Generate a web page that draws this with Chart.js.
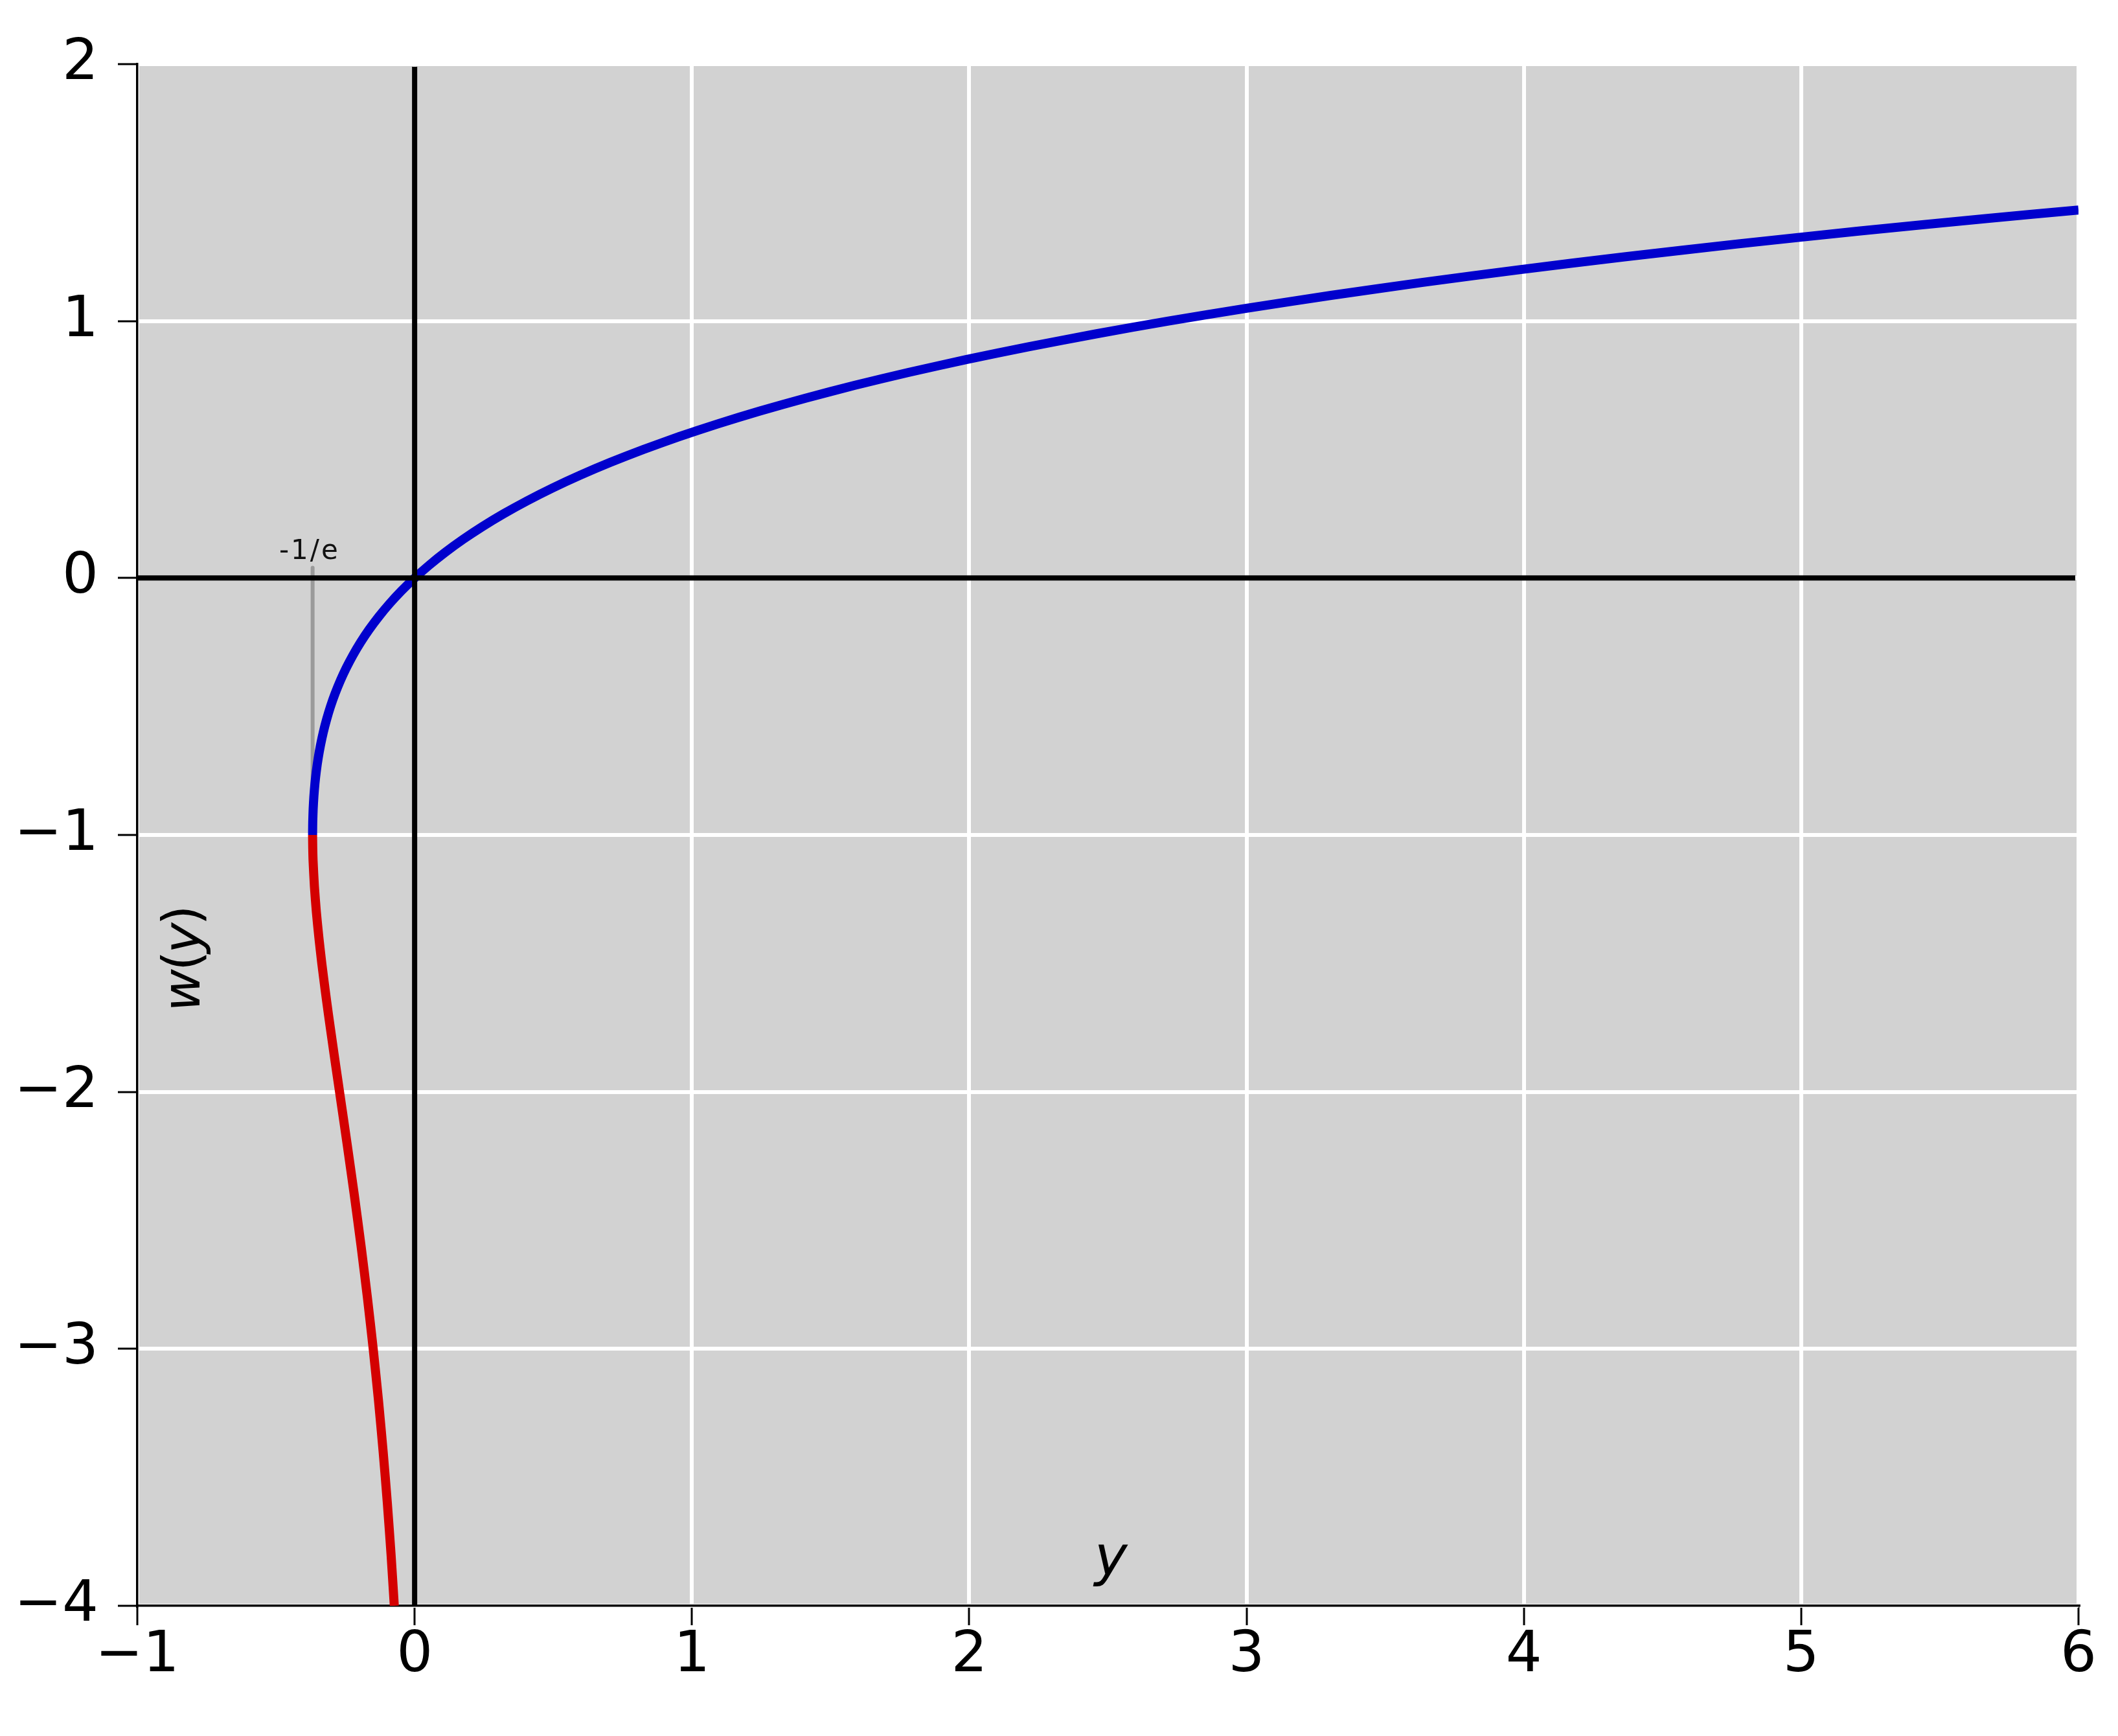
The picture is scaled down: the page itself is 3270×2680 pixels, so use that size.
<!DOCTYPE html>
<html><head><meta charset="utf-8">
<script src="https://cdn.jsdelivr.net/npm/chart.js@4.4.0/dist/chart.umd.min.js"></script>
<style>html,body{margin:0;padding:0;background:#fff}</style>
</head><body>
<canvas id="c" width="3270" height="2680" style="width:3270px;height:2680px;display:block"></canvas>
<script>
// ---- data ----
const xTicks = [-1, 0, 1, 2, 3, 4, 5, 6];
const yTicks = [-4, -3, -2, -1, 0, 1, 2];

// principal branch (blue): horizontal value y, vertical value w(y)
const principalY = [-0.3679, -0.3679, -0.3678, -0.3674, -0.3659, -0.3633, -0.3595, -0.3543, -0.3476, -0.3393, -0.3293,
  -0.3173, -0.3033, -0.2869, -0.2681, -0.2466, -0.2222, -0.1947, -0.1637, -0.1291, -0.0905, -0.0476, 0,
  0.0526, 0.1105, 0.1743, 0.2443, 0.3210, 0.4050, 0.4967, 0.5967, 0.7057, 0.8244, 0.9533, 1.0933, 1.2451,
  1.4096, 1.5878, 1.7804, 1.9887, 2.2136, 2.4564, 2.7183, 3.0005, 3.3046, 3.6319, 3.9841, 4.3629, 4.7701,
  5.2075, 5.6773, 6.0];
const principalW = [-1.0, -0.99, -0.98, -0.95, -0.9, -0.85, -0.8, -0.75, -0.7, -0.65, -0.6,
  -0.55, -0.5, -0.45, -0.4, -0.35, -0.3, -0.25, -0.2, -0.15, -0.1, -0.05, 0,
  0.05, 0.1, 0.15, 0.2, 0.25, 0.3, 0.35, 0.4, 0.45, 0.5, 0.55, 0.6, 0.65,
  0.7, 0.75, 0.8, 0.85, 0.9, 0.95, 1.0, 1.05, 1.1, 1.15, 1.2, 1.25, 1.3,
  1.35, 1.4, 1.4324];

// lower branch (red)
const lowerY = [-0.3679, -0.3679, -0.3674, -0.3662, -0.3614, -0.3543, -0.3452, -0.3347, -0.3230, -0.3106, -0.2975,
  -0.2842, -0.2707, -0.2438, -0.2177, -0.1931, -0.1703, -0.1494, -0.1304, -0.1135, -0.0984, -0.0850, -0.0733];
const lowerW = [-1.0, -1.01, -1.05, -1.1, -1.2, -1.3, -1.4, -1.5, -1.6, -1.7, -1.8,
  -1.9, -2.0, -2.2, -2.4, -2.6, -2.8, -3.0, -3.2, -3.4, -3.6, -3.8, -4.0];

// marker at the branch point
const branchX = [-0.3679, -0.3679];
const branchW = [-1.0, 0.04];
const branchLabel = '-1/e';
const branchLabelPos = [-0.379, 0.075];

const xTitle = 'y';
const xTitlePos = [2.511, -3.88];
const yTitlePos = [-0.776, -1.48];

// ---- helpers ----
const FONT = '"DejaVu Sans", sans-serif';
function pts(xs, ys) { return xs.map((x, i) => ({ x: x, y: ys[i] })); }
function fmt(v) { return (v < 0 ? '\u2212' : '') + Math.abs(v); }

function drawRuns(ctx, runs, cx, by) {
  let total = 0;
  runs.forEach(r => { ctx.font = r.font; total += ctx.measureText(r.t).width + (r.k || 0); });
  let x = cx - total / 2;
  ctx.textAlign = 'left';
  ctx.textBaseline = 'alphabetic';
  runs.forEach(r => { ctx.font = r.font; ctx.fillText(r.t, x, by); x += ctx.measureText(r.t).width + (r.k || 0); });
}

const decor = {
  id: 'decor',
  beforeDraw(chart) {
    const { ctx, chartArea: a } = chart;
    ctx.save();
    ctx.fillStyle = '#d2d2d2';
    ctx.fillRect(a.left, a.top, a.right - a.left, a.bottom - a.top);
    ctx.restore();
  },
  afterDatasetsDraw(chart) {
    const { ctx, chartArea: a, scales: { x, y } } = chart;
    ctx.save();
    // zero lines
    ctx.strokeStyle = '#000';
    ctx.lineWidth = 8;
    ctx.beginPath();
    const y0 = y.getPixelForValue(0);
    ctx.moveTo(a.left, y0); ctx.lineTo(a.right - 5, y0);
    const x0 = x.getPixelForValue(0);
    ctx.moveTo(x0, a.top + 4); ctx.lineTo(x0, a.bottom);
    ctx.stroke();

    ctx.fillStyle = '#111';
    // -1/e label
    ctx.font = '42px "DejaVu Sans", sans-serif';
    ctx.textAlign = 'center';
    ctx.textBaseline = 'alphabetic';
    if ('letterSpacing' in ctx) ctx.letterSpacing = '3px';
    ctx.fillText(branchLabel, x.getPixelForValue(branchLabelPos[0]), y.getPixelForValue(branchLabelPos[1]));
    if ('letterSpacing' in ctx) ctx.letterSpacing = '0px';

    ctx.fillStyle = '#000';
    // x title "y"
    drawRuns(ctx, [{ t: xTitle, font: 'italic 86px ' + FONT }], x.getPixelForValue(xTitlePos[0]), y.getPixelForValue(xTitlePos[1]));
    // y title "w(y)" rotated
    const it = 'italic 80px ' + FONT, up = '80px ' + FONT;
    ctx.translate(x.getPixelForValue(yTitlePos[0]), y.getPixelForValue(yTitlePos[1]));
    ctx.rotate(-Math.PI / 2);
    drawRuns(ctx, [{ t: 'w', font: it, k: -3 }, { t: '(', font: up, k: -4 }, { t: 'y', font: it, k: -4 }, { t: ')', font: up }], 0, 0);
    ctx.restore();
  }
};

new Chart(document.getElementById('c'), {
  type: 'scatter',
  data: {
    datasets: [
      { data: pts(principalY, principalW), showLine: true, borderColor: '#0000cd', borderWidth: 14, pointRadius: 0, tension: 0.2, order: 1, borderCapStyle: 'butt', borderJoinStyle: 'round' },
      { data: pts(lowerY, lowerW), showLine: true, borderColor: '#d40000', borderWidth: 14, pointRadius: 0, tension: 0.2, order: 2, borderCapStyle: 'butt', borderJoinStyle: 'round' },
      { data: pts(branchX, branchW), showLine: true, borderColor: '#9a9a9a', borderWidth: 6, pointRadius: 0, tension: 0, order: 3, borderCapStyle: 'round' }
    ]
  },
  options: {
    responsive: false,
    animation: false,
    devicePixelRatio: 1,
    layout: { padding: { top: 99, right: 61, left: 0, bottom: 0 } },
    plugins: { legend: { display: false }, tooltip: { enabled: false } },
    scales: {
      x: {
        type: 'linear', min: -1, max: 6,
        afterBuildTicks: s => { s.ticks = xTicks.map(v => ({ value: v })); },
        afterFit: s => { s.height = 201; },
        grid: { color: '#ffffff', lineWidth: 6, tickColor: '#000', tickWidth: 3, tickLength: 30, drawTicks: true },
        border: { display: true, color: '#000', width: 3.5 },
        ticks: { color: '#000', font: { family: 'DejaVu Sans', size: 88, lineHeight: 1 }, padding: 4, maxRotation: 0, autoSkip: false, callback: v => fmt(v) }
      },
      y: {
        type: 'linear', min: -4, max: 2,
        afterBuildTicks: s => { s.ticks = yTicks.map(v => ({ value: v })); },
        afterFit: s => { s.width = 212; },
        grid: { color: '#ffffff', lineWidth: 6, tickColor: '#000', tickWidth: 3, tickLength: 30, drawTicks: true },
        border: { display: true, color: '#000', width: 3.5 },
        ticks: { color: '#000', font: { family: 'DejaVu Sans', size: 88, lineHeight: 1 }, padding: 30, autoSkip: false, callback: v => fmt(v) }
      }
    }
  },
  plugins: [decor]
});
</script>
</body></html>
